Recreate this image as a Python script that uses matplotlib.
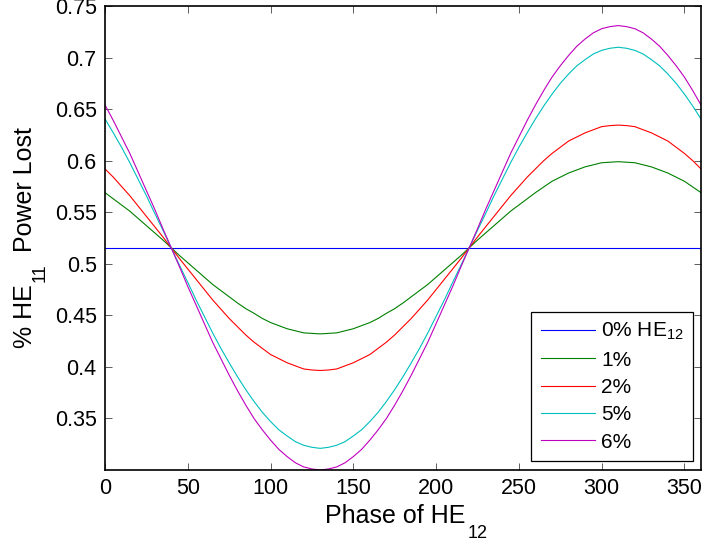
import matplotlib
matplotlib.use("Agg")
import matplotlib.pyplot as plt

plt.rcParams['font.family'] = ['Liberation Sans', 'DejaVu Sans']
plt.rcParams['mathtext.fontset'] = 'custom'
plt.rcParams['mathtext.rm'] = 'Liberation Sans'
plt.rcParams['mathtext.it'] = 'Liberation Sans'

# phase of HE12 (degrees), every 5 degrees
phase = list(range(0, 361, 5))

loss_0 = [0.5155] * len(phase)
loss_1 = [0.569, 0.563, 0.557, 0.551, 0.544, 0.537, 0.530, 0.523, 0.5155, 0.508, 0.501, 0.494, 0.487,
          0.480, 0.474, 0.468, 0.462, 0.4565, 0.452, 0.447, 0.443, 0.440, 0.437, 0.435, 0.433, 0.4325,
          0.432, 0.4325, 0.433, 0.435, 0.437, 0.440, 0.443, 0.447, 0.452, 0.4565, 0.462, 0.468, 0.474,
          0.480, 0.487, 0.494, 0.501, 0.508, 0.5155, 0.523, 0.530, 0.537, 0.544, 0.551, 0.557, 0.563,
          0.569, 0.5745, 0.580, 0.584, 0.588, 0.591, 0.594, 0.596, 0.598, 0.5985, 0.599, 0.5985, 0.598,
          0.596, 0.594, 0.591, 0.588, 0.584, 0.580, 0.5745, 0.569]
loss_2 = [0.592, 0.584, 0.575, 0.566, 0.556, 0.546, 0.536, 0.526, 0.5155, 0.505, 0.495, 0.485, 0.475,
          0.465, 0.456, 0.447, 0.439, 0.431, 0.424, 0.418, 0.412, 0.408, 0.404, 0.401, 0.398, 0.397,
          0.3965, 0.397, 0.398, 0.401, 0.404, 0.408, 0.412, 0.418, 0.424, 0.431, 0.439, 0.447, 0.456,
          0.465, 0.475, 0.485, 0.495, 0.505, 0.5155, 0.526, 0.536, 0.546, 0.556, 0.566, 0.575, 0.584,
          0.592, 0.600, 0.607, 0.613, 0.619, 0.623, 0.627, 0.630, 0.633, 0.634, 0.6345, 0.634, 0.633,
          0.630, 0.627, 0.623, 0.619, 0.613, 0.607, 0.600, 0.592]
loss_5 = [0.6405, 0.627, 0.613, 0.598, 0.582, 0.566, 0.549, 0.5325, 0.5155, 0.4985, 0.482, 0.465, 0.449,
          0.433, 0.418, 0.404, 0.3905, 0.378, 0.3665, 0.356, 0.347, 0.339, 0.333, 0.3275, 0.324, 0.322,
          0.321, 0.322, 0.324, 0.3275, 0.333, 0.339, 0.347, 0.356, 0.3665, 0.378, 0.3905, 0.404, 0.418,
          0.433, 0.449, 0.465, 0.482, 0.4985, 0.5155, 0.5325, 0.549, 0.566, 0.582, 0.598, 0.613, 0.627,
          0.6405, 0.653, 0.6645, 0.675, 0.684, 0.692, 0.698, 0.7035, 0.707, 0.709, 0.710, 0.709, 0.707,
          0.7035, 0.698, 0.692, 0.684, 0.675, 0.6645, 0.653, 0.6405]
loss_6 = [0.654, 0.639, 0.623, 0.607, 0.589, 0.571, 0.553, 0.534, 0.5155, 0.497, 0.478, 0.460, 0.442,
          0.424, 0.408, 0.392, 0.377, 0.363, 0.350, 0.339, 0.329, 0.320, 0.313, 0.307, 0.303, 0.301,
          0.300, 0.301, 0.303, 0.307, 0.313, 0.320, 0.329, 0.339, 0.350, 0.363, 0.377, 0.392, 0.408,
          0.424, 0.442, 0.460, 0.478, 0.497, 0.5155, 0.534, 0.553, 0.571, 0.589, 0.607, 0.623, 0.639,
          0.654, 0.668, 0.681, 0.692, 0.702, 0.711, 0.718, 0.724, 0.728, 0.730, 0.731, 0.730, 0.728,
          0.724, 0.718, 0.711, 0.702, 0.692, 0.681, 0.668, 0.654]

labels = ['0% HE$_{12}$', '1%', '2%', '5%', '6%']
series = [loss_0, loss_1, loss_2, loss_5, loss_6]
colors = [(0, 0, 1), (0, 0.5, 0), (1, 0, 0), (0, 0.75, 0.75), (0.75, 0, 0.75)]

xticks = [0, 50, 100, 150, 200, 250, 300, 350]
yticks = [0.35, 0.4, 0.45, 0.5, 0.55, 0.6, 0.65, 0.7, 0.75]
ytick_labels = ['0.35', '0.4', '0.45', '0.5', '0.55', '0.6', '0.65', '0.7', '0.75']

W, H = 704, 541
fig = plt.figure(figsize=(W / 100, H / 100), dpi=100)
ax = fig.add_axes([105 / W, 1 - 470 / H, 596 / W, 464 / H])

for vals, lab, col in zip(series, labels, colors):
    ax.plot(phase, vals, color=col, linewidth=0.8, label=lab)

ax.set_xlim(0, 360)
ax.set_ylim(0.3, 0.75)
ax.set_xticks(xticks)
ax.set_yticks(yticks)
ax.set_yticklabels(ytick_labels)
ax.tick_params(direction='in', top=True, right=True, labelsize=15.5, length=5, width=0.6,
               color='#444444', pad=6)
for s in ax.spines.values():
    s.set_linewidth(1.2)


def label_with_sub(x, y, parts, rotation=0):
    # parts: (text, fontsize, drop in px, gap before in px); MATLAB-style low subscripts
    r = fig.canvas.get_renderer()
    for txt, size, drop, gap in parts:
        if rotation == 0:
            px, py = x + gap, y - drop
        else:
            px, py = x + drop, y + gap
        t = fig.text(px / W, py / H, txt, fontsize=size, rotation=rotation,
                     rotation_mode='anchor', ha='left', va='baseline')
        bb = t.get_window_extent(renderer=r)
        if rotation == 0:
            x = bb.x1
        else:
            y = bb.y1


label_with_sub(325, 18, [('Phase of HE', 18, 0, 0), ('12', 13, 15, 2)])
label_with_sub(32, 193, [('% HE', 18, 0, 0), ('11', 13, 13, 2), ('Power Lost', 18, 0, 12)], rotation=90)

leg = ax.legend(loc='lower right', bbox_to_anchor=(0.9866, 0.0194), fontsize=15, fancybox=False,
                framealpha=1, edgecolor='black', handlelength=2.6, handletextpad=0.3,
                labelspacing=0.40, borderpad=0.45, borderaxespad=0)
leg.get_frame().set_linewidth(0.9)

fig.savefig('out.png', dpi=100)
